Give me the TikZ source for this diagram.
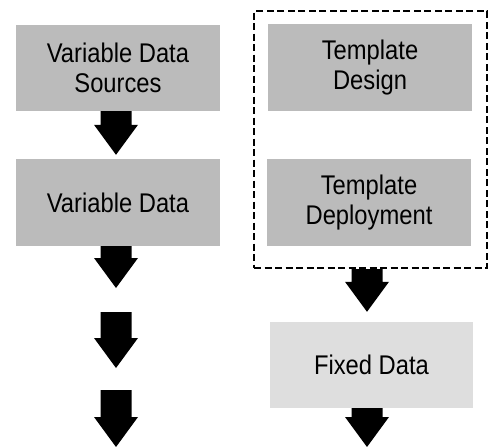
\documentclass[tikz,border=0pt]{standalone}
\usepackage{fontspec}
\setmainfont{Liberation Sans}[FakeStretch=0.88]
\usetikzlibrary{calc}
\definecolor{boxgray}{HTML}{BBBBBB}
\definecolor{lightgray}{HTML}{DEDEDE}
\newcommand{\blockarrow}[2]{%
  \fill let \p1=(#1), \p2=(#2) in
    (\x1-15.5pt,\y1) -- (\x1+15.5pt,\y1) -- (\x1+15.5pt,\y2+30pt) --
    (\x1+22pt,\y2+30pt) -- (\x1,\y2) -- (\x1-22pt,\y2+30pt) --
    (\x1-15.5pt,\y2+30pt) -- cycle;}
\begin{document}
\begin{tikzpicture}[x=1pt,y=-1pt,
  box/.style={rectangle, fill=boxgray, inner sep=0pt, minimum width=204pt,
    minimum height=87pt, align=center, font=\fontsize{27}{30}\selectfont},
  lightbox/.style={box, fill=lightgray},
  group/.style={rectangle, draw=black, line width=2.2pt, dash pattern=on 7pt off 3.5pt,
    inner sep=0pt, minimum width=233pt, minimum height=257pt}]
\useasboundingbox (0,0) rectangle (493,447);
% left column
\node[box, minimum height=86pt] (vds) at (118,68) {Variable Data\\Sources};
\node[box] (vd) at (118,202.5) {Variable Data};
% right column
\node[group] (grp) at (370.5,139.5) {};
\node[box] (td) at (370,67.5) {Template\\Design};
\node[box] (tdep) at (369,202.5) {Template\\Deployment};
\node[lightbox, minimum width=203pt, minimum height=86pt] (fixed) at (371.5,365) {Fixed Data};
% free arrow ends
\coordinate (a2e) at (116,288);
\coordinate (a3s) at (116,312);
\coordinate (a3e) at (116,368);
\coordinate (a4s) at (116,390);
\coordinate (a4e) at (116,447);
\coordinate (r2e) at (367,447);
% arrows
\blockarrow{[xshift=-2pt]vds.south}{[xshift=-2pt,yshift=4pt]vd.north}
\blockarrow{[xshift=-2pt]vd.south}{a2e}
\blockarrow{a3s}{a3e}
\blockarrow{a4s}{a4e}
\blockarrow{[xshift=-3.5pt]grp.south}{[xshift=-4.5pt,yshift=10pt]fixed.north}
\blockarrow{[xshift=-4.5pt]fixed.south}{r2e}
\end{tikzpicture}
\end{document}
